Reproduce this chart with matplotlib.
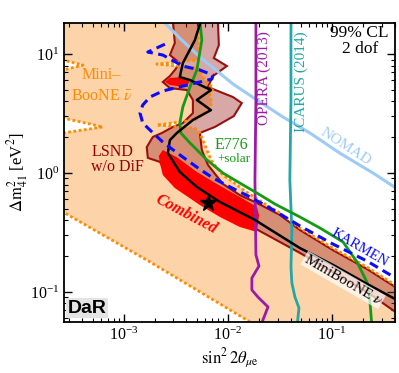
import matplotlib
matplotlib.use('Agg')
import matplotlib.pyplot as plt

plt.rcParams['font.family'] = ['Liberation Serif', 'DejaVu Serif']
plt.rcParams['mathtext.fontset'] = 'stix'

# MiniBooNE anti-nu allowed region (filled), boundary traced anticlockwise
mb_s2 = [2.6e-4, 5.26e-3, 5.15e-3, 2.07e-3, 5.15e-3, 6.01e-3, 7.18e-3, 6.71e-3, 7.02e-3,
         6.01e-3, 4.82e-3, 2.07e-3, 4.82e-3, 5.38e-3, 6.01e-3, 6.57e-3, 7.18e-3, 8.96e-3,
         1.12e-2, 1.46e-2, 1.90e-2, 3.16e-2, 4.92e-2, 0.102, 0.217, 0.42,
         0.42, 1.63e-2, 1.78e-3, 2.6e-4,
         2.6e-4, 6.28e-4, 2.6e-4, 2.6e-4, 4.04e-4, 2.6e-4]
mb_dm = [19, 19, 8.90, 8.24, 7.63, 6.05, 5.18, 4.52, 3.87,
         3.19, 2.79, 2.53, 2.39, 2.17, 1.72, 1.42, 1.21, 0.962,
         0.840, 0.706, 0.605, 0.461, 0.345, 0.234, 0.162, 0.112,
         0.056, 0.056, 0.179, 0.470,
         2.17, 2.44, 2.90, 7.34, 8.08, 8.90]

# LSND w/o DiF allowed region
lsnd_s2 = [2.96e-3, 8.01e-3, 8.19e-3, 7.33e-3, 9.78e-3, 7.18e-3, 6.43e-3, 1.12e-2, 1.36e-2,
           1.14e-2, 7.50e-3, 5.38e-3, 5.62e-3, 6.43e-3, 8.96e-3, 1.30e-2, 1.90e-2, 3.16e-2,
           4.92e-2, 0.102, 0.217, 0.42, 0.42, 0.217, 0.102, 4.92e-2, 1.94e-2, 8.96e-3,
           5.03e-3, 2.90e-3, 2.22e-3, 1.70e-3, 1.66e-3, 1.90e-3, 2.32e-3, 2.96e-3, 3.69e-3,
           4.61e-3, 4.61e-3, 4.04e-3, 2.77e-3, 2.37e-3, 2.77e-3, 3.09e-3, 3.45e-3, 2.77e-3,
           3.09e-3]
lsnd_dm = [19, 19, 11.9, 9.25, 7.93, 6.53, 5.28, 4.35, 3.87,
           3.01, 2.44, 2.17, 1.56, 1.17, 0.809, 0.653, 0.560, 0.444,
           0.332, 0.225, 0.156, 0.108, 0.0667, 0.100, 0.147, 0.213, 0.332, 0.480,
           0.641, 0.873, 1.24, 1.34, 1.65, 2.01, 2.17, 2.44, 2.63,
           3.19, 4.11, 4.98, 5.18, 5.82, 6.53, 7.34, 8.40, 9.81,
           12.4]

# combined fit regions
comb_s2 = [2.37e-3, 3.23e-3, 5.03e-3, 7.83e-3, 1.30e-2, 1.90e-2, 1.99e-2, 1.94e-2, 1.90e-2,
           1.30e-2, 8.37e-3, 5.38e-3, 3.09e-3, 2.37e-3, 2.22e-3, 2.17e-3]
comb_dm = [1.56, 1.36, 1.02, 0.809, 0.629, 0.518, 0.444, 0.366, 0.319,
           0.352, 0.427, 0.538, 0.748, 0.962, 1.21, 1.39]
comb2_s2 = [2.48e-3, 2.77e-3, 3.69e-3, 4.32e-3, 3.86e-3, 2.77e-3]
comb2_dm = [5.82, 6.29, 6.41, 5.82, 5.28, 5.49]
best_s2, best_dm = 6.43e-3, 0.560

# MiniBooNE nu
mbnu_s2 = [5.50e-3, 4.82e-3, 3.69e-3, 3.45e-3, 4.32e-3, 6.87e-3, 5.03e-3, 6.87e-3, 4.61e-3,
           3.23e-3, 2.77e-3, 2.65e-3, 3.45e-3, 5.03e-3, 8.37e-3, 1.82e-2, 4.92e-2, 0.102,
           0.217, 0.42]
mbnu_dm = [19, 13.1, 8.40, 6.41, 6.05, 4.98, 4.11, 3.38, 2.79,
           2.17, 1.89, 1.47, 1.02, 0.763, 0.571, 0.403, 0.234, 0.169,
           0.117, 0.0857]

# E776 + solar
e776_s2 = [5.38e-3, 5.62e-3, 5.03e-3, 4.32e-3, 3.69e-3, 3.45e-3, 3.53e-3, 4.32e-3, 6.28e-3,
           8.96e-3, 1.30e-2, 1.90e-2, 2.83e-2, 4.92e-2, 7.67e-2, 0.128, 0.174, 0.217,
           0.232, 0.243]
e776_dm = [19, 13.1, 7.34, 5.28, 3.59, 2.63, 2.17, 1.79, 1.29,
           1.00, 0.824, 0.679, 0.549, 0.427, 0.345, 0.263, 0.179, 0.121,
           0.0824, 0.05]

# KARMEN
karmen_s2 = [2.48e-3, 1.70e-3, 2.37e-3, 3.69e-3, 5.38e-3, 7.18e-3, 7.02e-3, 5.38e-3, 3.69e-3,
             2.37e-3, 1.78e-3, 1.52e-3, 1.43e-3, 1.52e-3, 1.78e-3, 2.37e-3, 3.45e-3, 5.03e-3,
             7.18e-3, 1.05e-2, 1.63e-2, 2.54e-2, 4.92e-2, 0.102, 0.217, 0.42]
karmen_dm = [12.1, 10.4, 9.81, 7.93, 7.34, 6.66, 6.17, 5.82, 5.38,
             4.89, 4.35, 3.73, 3.19, 2.63, 2.30, 1.82, 1.42, 1.12,
             0.908, 0.763, 0.629, 0.508, 0.359, 0.253, 0.182, 0.129]

# NOMAD
nomad_s2 = [2.37e-3, 3.45e-3, 5.38e-3, 1.12e-2, 1.90e-2, 3.38e-2, 6.14e-2, 0.119, 0.248, 0.42]
nomad_dm = [19, 13.6, 9.44, 5.60, 4.11, 2.96, 2.17, 1.47, 1.00, 0.74]

# OPERA (2013)
opera_s2 = [1.86e-2, 1.86e-2, 1.82e-2, 1.86e-2, 1.99e-2, 1.70e-2, 1.70e-2, 1.94e-2, 2.43e-2, 2.03e-2]
opera_dm = [19, 4.11, 0.873, 0.205, 0.165, 0.131, 0.104, 0.0908, 0.0748, 0.05]

# ICARUS (2014)
icarus_s2 = [4.04e-2, 4.04e-2, 3.94e-2, 4.12e-2, 4.04e-2, 4.12e-2, 4.41e-2, 4.82e-2, 4.61e-2]
icarus_dm = [19, 4.11, 0.873, 0.332, 0.162, 0.119, 0.0908, 0.0734, 0.05]

orange = '#ff8c00'
fig = plt.figure(figsize=(3.99, 3.73), dpi=100)
ax = fig.add_axes([0.160, 0.137, 0.830, 0.801])

ax.fill(mb_s2, mb_dm, color='#fdd3aa', lw=0, zorder=1)
dots = dict(color=orange, lw=2.0, ls=(0, (1, 0.9)), zorder=5)
ax.plot(mb_s2[1:26], mb_dm[1:26], **dots)
ax.plot(mb_s2[27:30], mb_dm[27:30], **dots)
ax.plot(mb_s2[30:36], mb_dm[30:36], **dots)

ax.fill(lsnd_s2, lsnd_dm, facecolor='#a0302a', alpha=0.42, lw=0, zorder=2)
ax.fill(lsnd_s2, lsnd_dm, facecolor='none', edgecolor='#9a1010', lw=1.5, zorder=3)

ax.fill(comb_s2, comb_dm, color='#ff0000', lw=0, zorder=4)
ax.fill(comb2_s2, comb2_dm, color='#ff0000', lw=0, zorder=4)

ax.plot(nomad_s2, nomad_dm, color='#9ecbf5', lw=2.2, zorder=6)
ax.plot(opera_s2, opera_dm, color='#9c1aa6', lw=2.0, zorder=6)
ax.plot(icarus_s2, icarus_dm, color='#21a7a7', lw=2.0, zorder=6)
ax.plot(e776_s2, e776_dm, color='#159a15', lw=2.0, zorder=6)
ax.plot(mbnu_s2, mbnu_dm, color='black', lw=1.8, zorder=7)
ax.plot(karmen_s2, karmen_dm, color='#0a0aff', lw=2.2, ls=(0, (3, 1.8)), zorder=7)
ax.plot(best_s2, best_dm, marker='*', color='black', ms=12, ls='none', zorder=8)

ax.set_xscale('log')
ax.set_yscale('log')
ax.set_xlim(2.65e-4, 0.404)
ax.set_ylim(0.056, 18.2)
ax.tick_params(which='both', direction='in', top=True, right=True, labelsize=11.5)
ax.tick_params(which='major', length=6, width=1)
ax.tick_params(which='minor', length=3, width=0.8)
for s in ax.spines.values():
    s.set_linewidth(1.3)
    s.set_zorder(10)

ax.set_xlabel(r'$\sin^2 2\theta_{\mu\mathrm{e}}$', fontsize=12, labelpad=2)
ax.set_ylabel(r'$\Delta\mathrm{m}^2_{41}$ [eV$^2$]', fontsize=12, labelpad=0)

ax.text(0.185, 12.9, '99% CL\n2 dof', fontsize=12.5, ha='center', va='center',
        linespacing=0.95, zorder=11)
ax.text(6.01e-4, 6.66, 'Mini–', color=orange, fontsize=11.5, ha='center', va='center', zorder=11)
ax.text(6.14e-4, 4.44, r'BooNE $\bar{\nu}$', color=orange, fontsize=11.5, ha='center',
        va='center', zorder=11)
ax.text(7.84e-4, 1.50, 'LSND', color='#990000', fontsize=11.5, ha='center', va='center', zorder=11)
ax.text(8.76e-4, 1.12, 'w/o DiF', color='#990000', fontsize=11.5, ha='center', va='center',
        zorder=11)
ax.text(1.09e-2, 1.72, 'E776', color='#159a15', fontsize=11.5, ha='center', va='center', zorder=11)
ax.text(1.14e-2, 1.31, '+solar', color='#159a15', fontsize=9.5, ha='center', va='center', zorder=11)
ax.text(2.22e-2, 6.29, 'OPERA (2013)', color='#9c1aa6', fontsize=11, rotation=90,
        ha='center', va='center', zorder=11)
ax.text(5.03e-2, 5.82, 'ICARUS (2014)', color='#21a7a7', fontsize=11, rotation=90,
        ha='center', va='center', zorder=11)
ax.text(0.136, 1.65, 'NOMAD', color='#9ecbf5', fontsize=11, rotation=-33,
        ha='center', va='center', zorder=11)
ax.text(0.186, 0.234, 'KARMEN', color='#0a0aff', fontsize=10.5, rotation=-30,
        ha='center', va='center', zorder=11)
ax.text(0.128, 0.126, r'MiniBooNE $\nu$', color='black', fontsize=11, rotation=-30,
        ha='center', va='center', zorder=11,
        bbox=dict(facecolor='white', alpha=0.7, edgecolor='none', pad=0.5))
ax.text(3.95e-3, 0.452, 'Combined', color='#ff0000', fontsize=11.5, rotation=-28,
        fontweight='bold', fontstyle='italic', ha='center', va='center', zorder=11)
ax.text(0.012, 0.018, 'DaR', transform=ax.transAxes, fontsize=14, fontweight='bold',
        family='Liberation Sans', ha='left', va='bottom', zorder=11,
        bbox=dict(facecolor='#e4e4e4', edgecolor='none', pad=1.0))

fig.savefig('out.png', dpi=100)
